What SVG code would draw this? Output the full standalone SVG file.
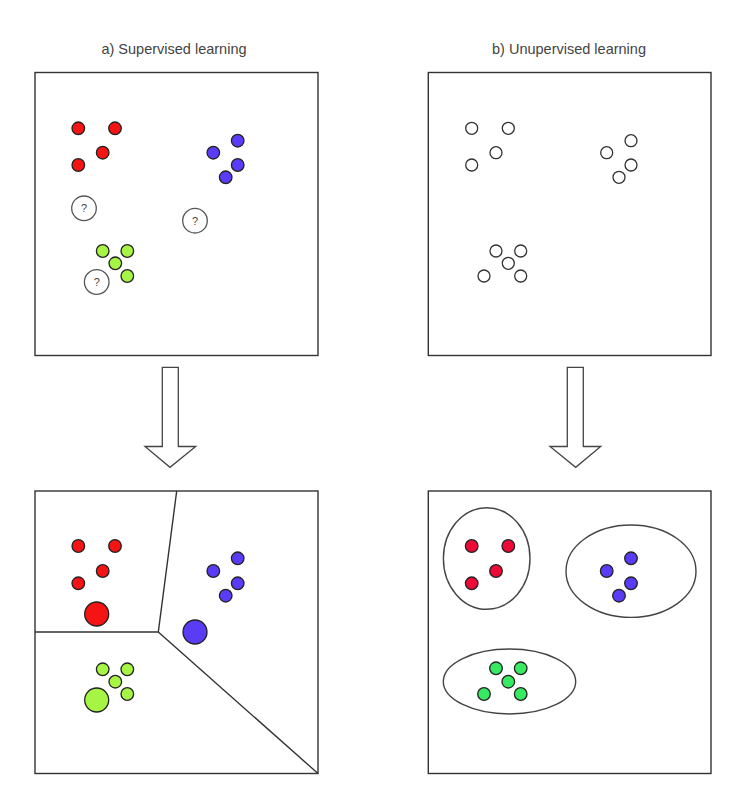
<svg xmlns="http://www.w3.org/2000/svg" width="731" height="794" viewBox="0 0 731 794">
<style>
.title{font-family:"Liberation Sans",Arial,sans-serif;font-size:14.5px;fill:#444;text-anchor:middle}
.box{fill:#fff;stroke:#333;stroke-width:1.4}
.dot{stroke:#222;stroke-width:1.3}
.r{fill:#f51414}
.r2{fill:#ee0a36}
.b{fill:#5a3cf7}
.g{fill:#a6f443}
.g2{fill:#38ea62}
.o{fill:#fff;stroke:#333;stroke-width:1.3}
.q{fill:#fff;stroke:#555;stroke-width:1.3}
.qt{font-family:"Liberation Sans",Arial,sans-serif;font-size:11px;fill:#444;text-anchor:middle}
.ell{fill:none;stroke:#444;stroke-width:1.4}
.sep{fill:none;stroke:#333;stroke-width:1.4}
.arrow{fill:#fff;stroke:#444;stroke-width:1.3}
</style>
<rect width="731" height="794" fill="#fff"/>
<text class="title" x="174" y="54">a) Supervised learning</text>
<text class="title" x="569" y="54">b) Unupervised learning</text>

<g id="panel-a-top">
<rect class="box" x="35" y="72.5" width="283" height="283"/>
<circle class="dot r" cx="78.3" cy="128.3" r="6.3"/>
<circle class="dot r" cx="115" cy="128.3" r="6.3"/>
<circle class="dot r" cx="102.7" cy="152.7" r="6.3"/>
<circle class="dot r" cx="78.3" cy="165" r="6.3"/>
<circle class="dot b" cx="237.7" cy="140.7" r="6.3"/>
<circle class="dot b" cx="213.3" cy="152.7" r="6.3"/>
<circle class="dot b" cx="237.7" cy="165" r="6.3"/>
<circle class="dot b" cx="225.7" cy="177.3" r="6.3"/>
<circle class="dot g" cx="102.7" cy="251" r="6.3"/>
<circle class="dot g" cx="127.3" cy="251" r="6.3"/>
<circle class="dot g" cx="115.3" cy="263.3" r="6.3"/>
<circle class="dot g" cx="127.3" cy="276" r="6.3"/>
<g id="q1"><circle class="q" cx="84" cy="208.3" r="12.3"/><text class="qt" x="84" y="212.3">?</text></g>
<g id="q2"><circle class="q" cx="195" cy="220.7" r="12.3"/><text class="qt" x="195" y="224.7">?</text></g>
<g id="q3"><circle class="q" cx="96.7" cy="282" r="12.3"/><text class="qt" x="96.7" y="286">?</text></g>
</g>

<g id="panel-b-top">
<rect class="box" x="428.3" y="72.5" width="282.7" height="283"/>
<circle class="o" cx="471.7" cy="128.3" r="6"/>
<circle class="o" cx="508.3" cy="128.3" r="6"/>
<circle class="o" cx="496" cy="152.7" r="6"/>
<circle class="o" cx="471.7" cy="165" r="6"/>
<circle class="o" cx="631" cy="140.7" r="6"/>
<circle class="o" cx="606.7" cy="152.7" r="6"/>
<circle class="o" cx="631" cy="165" r="6"/>
<circle class="o" cx="619" cy="177.3" r="6"/>
<circle class="o" cx="496" cy="251" r="6"/>
<circle class="o" cx="520.7" cy="251" r="6"/>
<circle class="o" cx="508.3" cy="263.3" r="6"/>
<circle class="o" cx="484" cy="276" r="6"/>
<circle class="o" cx="520.7" cy="276" r="6"/>
</g>

<g id="connectors">
<path id="arrow-a" class="arrow" d="M162.3,367.3 H178.3 V446.5 H195.7 L170,467.3 L145,446.5 H162.3 Z"/>
<path id="arrow-b" class="arrow" d="M567.3,367.3 H583.3 V446.5 H600.7 L575.7,467.3 L550,446.5 H567.3 Z"/>
</g>

<g id="panel-a-bottom">
<rect class="box" x="35" y="491" width="283" height="282.5"/>
<polyline class="sep" points="176.7,491 158.3,632 35,632"/>
<line class="sep" x1="158.3" y1="632" x2="318" y2="773.5"/>
<circle class="dot r" cx="78.3" cy="546" r="6.3"/>
<circle class="dot r" cx="115" cy="546" r="6.3"/>
<circle class="dot r" cx="102.7" cy="571" r="6.3"/>
<circle class="dot r" cx="78.3" cy="583.3" r="6.3"/>
<circle class="dot r" cx="96.7" cy="614" r="12"/>
<circle class="dot b" cx="237.7" cy="558.3" r="6.3"/>
<circle class="dot b" cx="213.3" cy="571" r="6.3"/>
<circle class="dot b" cx="237.7" cy="583.3" r="6.3"/>
<circle class="dot b" cx="225.7" cy="595.7" r="6.3"/>
<circle class="dot b" cx="195" cy="632" r="12"/>
<circle class="dot g" cx="102.7" cy="669.3" r="6.3"/>
<circle class="dot g" cx="127.3" cy="669.3" r="6.3"/>
<circle class="dot g" cx="115.3" cy="681.7" r="6.3"/>
<circle class="dot g" cx="127.3" cy="694" r="6.3"/>
<circle class="dot g" cx="96.7" cy="700" r="12"/>
</g>

<g id="panel-b-bottom">
<rect class="box" x="428.3" y="491" width="282.7" height="282.5"/>
<ellipse class="ell" cx="486.7" cy="558.5" rx="43.3" ry="50.8"/>
<ellipse class="ell" cx="631" cy="571.2" rx="65" ry="46.2"/>
<ellipse class="ell" cx="509.5" cy="681.5" rx="66.2" ry="32.5"/>
<circle class="dot r2" cx="471.7" cy="546" r="6.3"/>
<circle class="dot r2" cx="508.3" cy="546" r="6.3"/>
<circle class="dot r2" cx="496" cy="571" r="6.3"/>
<circle class="dot r2" cx="471.7" cy="583.3" r="6.3"/>
<circle class="dot b" cx="631" cy="558.3" r="6.3"/>
<circle class="dot b" cx="606.7" cy="571" r="6.3"/>
<circle class="dot b" cx="631" cy="583.3" r="6.3"/>
<circle class="dot b" cx="619" cy="595.7" r="6.3"/>
<circle class="dot g2" cx="496" cy="668.3" r="6.3"/>
<circle class="dot g2" cx="520.7" cy="668.3" r="6.3"/>
<circle class="dot g2" cx="508.3" cy="681.7" r="6.3"/>
<circle class="dot g2" cx="484" cy="694" r="6.3"/>
<circle class="dot g2" cx="520.7" cy="694" r="6.3"/>
</g>
</svg>
